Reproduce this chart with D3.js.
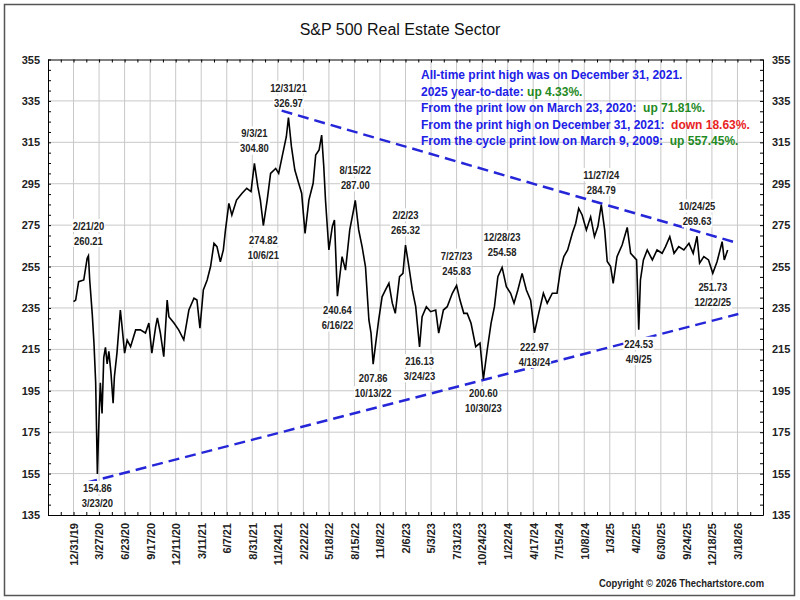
<!DOCTYPE html>
<html>
<head>
<meta charset="utf-8">
<title>S&amp;P 500 Real Estate Sector</title>
<script src="https://d3js.org/d3.v7.min.js"></script>
<style>
body { margin: 0; background: #fff; }
svg text { font-family: Arial, "Liberation Sans", sans-serif; }
</style>
</head>
<body>
<svg id="chart" width="800" height="600"></svg>

<script>
// trading days counted from 12/31/19 and the sector close
var tradingDay = [0, 5, 12, 24, 32, 35, 38, 44, 48, 52, 56, 60, 63, 67, 71, 75, 79, 83, 88, 93,
  96, 102, 110, 114, 120, 126, 134, 146, 157, 169, 177, 184, 193, 197, 204, 212, 220, 224, 236, 247,
  259, 271, 283, 290, 297, 305, 314, 322, 330, 337, 345, 352, 357, 365, 372, 383, 396, 407, 417, 425,
  433, 439, 446, 455, 463, 475, 482, 490, 500, 505, 512, 520, 529, 536, 544, 553, 563, 569, 577, 583,
  588, 592, 600, 608, 613, 620, 631, 639, 649, 658, 662, 670, 678, 686, 694, 699, 704, 710, 717, 725,
  733, 741, 749, 756, 766, 774, 780, 788, 796, 804, 813, 819, 829, 839, 851, 858, 869, 878, 890, 900,
  908, 917, 925, 934, 945, 955, 963, 972, 981, 989, 997, 1007, 1017, 1027, 1035, 1044, 1054, 1064, 1074, 1083,
  1093, 1104, 1113, 1125, 1136, 1144, 1152, 1161, 1172, 1180, 1187, 1195, 1205, 1215, 1224, 1232, 1240, 1248, 1254, 1262,
  1268, 1277, 1289, 1301, 1309, 1316, 1323, 1328, 1332, 1339, 1348, 1360, 1371, 1383, 1391, 1401, 1411, 1422, 1434, 1446,
  1456, 1465, 1471, 1481, 1492, 1502, 1512, 1524, 1529, 1537];
var closeValue = [238.0, 238.8, 247.7, 248.5, 259.0, 260.21, 248.5, 232.0, 218.0, 199.0, 154.86, 182.5, 198.8, 184.0, 211.0, 216.0, 208.0, 214.0, 203.5, 189.0,
  201.8, 213.2, 234.0, 226.0, 213.2, 219.5, 216.3, 224.4, 224.4, 222.9, 227.7, 213.2, 226.0, 230.2, 222.9, 211.5, 238.8, 230.8, 227.7, 224.4,
  219.6, 234.0, 239.7, 238.8, 225.2, 243.7, 248.5, 255.0, 266.2, 264.6, 257.3, 263.0, 272.7, 285.5, 279.9, 287.1, 290.4, 292.8, 291.2, 304.80,
  293.6, 287.1, 274.82, 287.1, 300.0, 302.4, 300.0, 308.0, 317.7, 326.97, 312.9, 301.6, 295.2, 290.4, 271.0, 287.1, 295.2, 308.9, 311.3, 318.5,
  303.2, 287.1, 263.0, 274.3, 277.5, 240.64, 259.8, 253.3, 272.7, 282.3, 287.00, 272.7, 264.6, 254.9, 229.2, 222.8, 207.86, 217.9, 229.2, 240.4,
  243.7, 246.9, 237.3, 232.4, 250.1, 251.7, 265.32, 255.0, 243.7, 235.6, 216.13, 230.8, 235.6, 233.2, 234.0, 222.8, 234.0, 235.6, 242.1, 245.83,
  238.8, 232.4, 232.4, 227.6, 216.3, 218.0, 200.60, 214.7, 227.6, 235.6, 250.1, 254.58, 245.3, 242.1, 237.3, 243.7, 251.7, 243.7, 238.8, 222.97,
  232.4, 242.1, 237.3, 242.1, 242.1, 253.3, 259.8, 263.0, 271.1, 275.9, 283.1, 279.9, 272.7, 279.0, 269.4, 274.3, 284.79, 272.7, 257.4, 255.0,
  246.9, 259.8, 265.4, 273.9, 261.4, 259.8, 258.2, 224.53, 248.5, 258.2, 263.0, 258.2, 263.0, 261.4, 264.6, 269.4, 261.4, 264.6, 263.0, 266.2,
  261.4, 269.63, 256.6, 259.8, 258.2, 251.73, 257.3, 267.0, 258.2, 263.0];

// bottom axis labels, one every 60 trading days starting at day 0
var tickDates = ["12/31/19", "3/27/20", "6/23/20", "9/17/20", "12/11/20", "3/11/21", "6/7/21", "8/31/21",
  "11/24/21", "2/22/22", "5/18/22", "8/15/22", "11/8/22", "2/6/23", "5/3/23", "7/31/23", "10/24/23",
  "1/22/24", "4/17/24", "7/15/24", "10/8/24", "1/3/25", "4/2/25", "6/30/25", "9/24/25", "12/18/25", "3/18/26"];

var yLabels = [135, 155, 175, 195, 215, 235, 255, 275, 295, 315, 335, 355];

// labelled highs and lows
var calloutDay = [35, 56, 425, 446, 505, 620, 662, 704, 780, 813, 900, 963, 1007, 1083, 1240, 1328, 1465, 1502];
var calloutValue = [260.21, 154.86, 304.80, 274.82, 326.97, 240.64, 287.00, 207.86, 265.32, 216.13, 245.83,
  200.60, 254.58, 222.97, 284.79, 224.53, 269.63, 251.73];
var calloutDate = ["2/21/20", "3/23/20", "9/3/21", "10/6/21", "12/31/21", "6/16/22", "8/15/22", "10/13/22",
  "2/2/23", "3/24/23", "7/27/23", "10/30/23", "12/28/23", "4/18/24", "11/27/24", "4/9/25", "10/24/25", "12/22/25"];
var calloutKind = ["high", "low", "high", "low", "high", "low", "high", "low", "high", "low", "high", "low",
  "high", "low", "high", "low", "high", "low"];

// trend lines (day, value) at each end
var upperTrendDay = [489, 1551], upperTrendValue = [330.3, 266.9];
var lowerTrendDay = [30, 1562], lowerTrendValue = [150.6, 232.1];

var infoText = ["All-time print high was on December 31, 2021.",
  "2025 year-to-date: ",
  "From the print low on March 23, 2020:  ",
  "From the print high on December 31, 2021:  ",
  "From the cycle print low on March 9, 2009:  "];
var infoChange = ["", "up 4.33%.", "up 71.81%.", "down 18.63%.", "up 557.45%."];

var svg = d3.select("#chart");

var x = d3.scaleLinear().domain([-60, 1620]).range([48, 763]);
var y = d3.scaleLinear().domain([135, 355]).range([515, 59.5]);

// outer frame
svg.append("rect").attr("x", 4.5).attr("y", 4.5).attr("width", 790).attr("height", 591)
  .attr("fill", "#fff").attr("stroke", "#555").attr("stroke-width", 1.5);

svg.append("text").attr("x", 400).attr("y", 35).attr("text-anchor", "middle")
  .style("font-size", "16px").attr("fill", "#111").text("S&P 500 Real Estate Sector");

// grid
var xMajor = d3.range(0, 1561, 60);
svg.append("g").selectAll("line").data(xMajor).join("line")
  .attr("x1", d => x(d)).attr("x2", d => x(d))
  .attr("y1", y(355)).attr("y2", y(135))
  .attr("stroke", "#c8c8c8").attr("stroke-width", 1);
svg.append("g").selectAll("line").data(yLabels.slice(1, -1)).join("line")
  .attr("x1", x(-60)).attr("x2", x(1620))
  .attr("y1", d => y(d)).attr("y2", d => y(d))
  .attr("stroke", "#c8c8c8").attr("stroke-width", 1);

// axes, ticks pointing inward
var xTicks = d3.range(-60, 1621, 30);
var yTicks = d3.range(135, 356, 5);
function dayLabel(d) { return (d >= 0 && d % 60 === 0 && tickDates[d / 60]) ? tickDates[d / 60] : ""; }
function yLabel(d) { return yLabels.indexOf(d) >= 0 ? d : ""; }

var gBottom = svg.append("g").attr("transform", "translate(0," + y(135) + ")")
  .call(d3.axisBottom(x).tickValues(xTicks).tickSize(-3).tickSizeOuter(0).tickFormat(dayLabel));
gBottom.selectAll("text")
  .attr("transform", "rotate(-90)").attr("text-anchor", "end")
  .attr("x", -8).attr("y", 0).attr("dy", "0.35em");

svg.append("g").attr("transform", "translate(0," + y(355) + ")")
  .call(d3.axisTop(x).tickValues(xTicks).tickSize(-3).tickSizeOuter(0).tickFormat(""));

svg.append("g").attr("transform", "translate(" + x(-60) + ",0)")
  .call(d3.axisLeft(y).tickValues(yTicks).tickSize(-3).tickSizeOuter(0).tickPadding(8).tickFormat(yLabel));

svg.append("g").attr("transform", "translate(" + x(1620) + ",0)")
  .call(d3.axisRight(y).tickValues(yTicks).tickSize(-3).tickSizeOuter(0).tickPadding(9).tickFormat(yLabel));

svg.selectAll(".tick text").style("font-size", "11px").style("font-weight", "bold").attr("fill", "#222");
svg.selectAll(".domain").attr("stroke", "#000");
svg.selectAll(".tick line").attr("stroke", "#000");

// trend lines
svg.append("line")
  .attr("x1", x(upperTrendDay[0])).attr("y1", y(upperTrendValue[0]))
  .attr("x2", x(upperTrendDay[1])).attr("y2", y(upperTrendValue[1]))
  .attr("stroke", "#2626d9").attr("stroke-width", 2.5).attr("stroke-dasharray", "11,6");
svg.append("line")
  .attr("x1", x(lowerTrendDay[0])).attr("y1", y(lowerTrendValue[0]))
  .attr("x2", x(lowerTrendDay[1])).attr("y2", y(lowerTrendValue[1]))
  .attr("stroke", "#2626d9").attr("stroke-width", 2.5).attr("stroke-dasharray", "11,6");

// price
var line = d3.line().x(i => x(tradingDay[i])).y(i => y(closeValue[i]));
svg.append("path").datum(d3.range(tradingDay.length))
  .attr("d", line).attr("fill", "none").attr("stroke", "#000").attr("stroke-width", 1.6);

// callouts: date above value for highs, value above date for lows (narrowed bold text)
var fmt = d3.format(".2f");
var gCall = svg.append("g");
calloutDay.forEach(function(day, i) {
  var cx = x(day), cy = y(calloutValue[i]);
  var rows = calloutKind[i] == "high"
    ? [[calloutDate[i], cy - 30], [fmt(calloutValue[i]), cy - 15]]
    : [[fmt(calloutValue[i]), cy + 14], [calloutDate[i], cy + 29]];
  rows.forEach(function(r) {
    var g = gCall.append("g").attr("transform", "translate(" + cx + "," + r[1] + ") scale(0.82,1)");
    var bg = g.append("rect").attr("fill", "#fff");
    var t = g.append("text").attr("dy", "0.35em").attr("text-anchor", "middle")
      .style("font-size", "11.5px").style("font-weight", "bold").attr("fill", "#222").text(r[0]);
    var b = t.node().getBBox();
    bg.attr("x", b.x - 1).attr("y", b.y).attr("width", b.width + 2).attr("height", b.height);
  });
});

// info block
var info = svg.append("g");
infoText.forEach(function(s, i) {
  var t = info.append("text").attr("x", 421).attr("y", 75 + i * 16.5).attr("dy", "0.35em")
    .style("font-size", "12px").style("font-weight", "bold").style("white-space", "pre");
  t.append("tspan").attr("fill", "#2020e6").text(s);
  if (infoChange[i]) {
    t.append("tspan").attr("fill", infoChange[i].indexOf("down") == 0 ? "#e8231f" : "#1f8a1f").text(infoChange[i]);
  }
});

svg.append("text").attr("transform", "translate(764,587) scale(0.82,1)").attr("text-anchor", "end")
  .style("font-size", "11.5px").style("font-weight", "bold").attr("fill", "#222")
  .text("Copyright \u00a9 2026 Thechartstore.com");
</script>
</body>
</html>
